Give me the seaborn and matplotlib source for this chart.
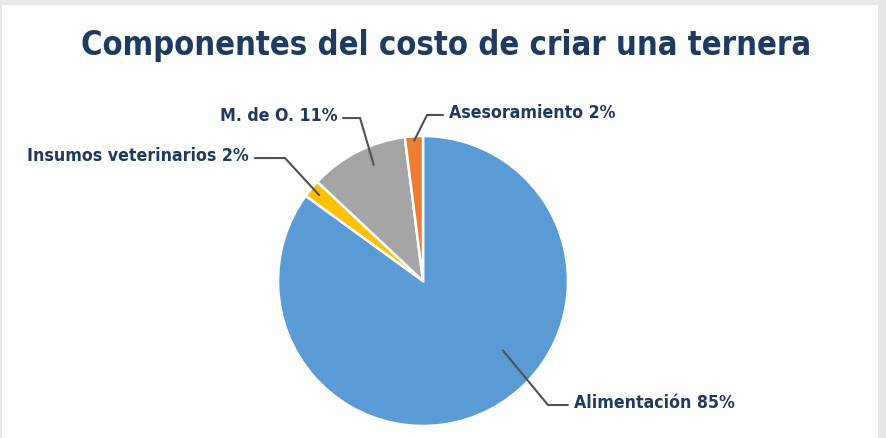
import matplotlib
matplotlib.use("Agg")
import matplotlib.pyplot as plt
from matplotlib.patches import Rectangle
import numpy as np
import seaborn as sns

sns.set_theme(style="white")
plt.rcParams["font.family"] = ["DejaVu Sans"]

# Cost components of raising a heifer calf (%)
categories = ["Alimentación", "Insumos veterinarios", "M. de O.", "Asesoramiento"]
shares = [85, 2, 11, 2]
colors = ["#5b9bd5", "#ffc000", "#a5a5a5", "#ed7d31"]
title = "Componentes del costo de criar una ternera"

navy = "#1f3a60"
line_col = "#4c5157"
font_kw = dict(family="DejaVu Sans", fontstretch="condensed", fontweight="bold", color=navy)

fig = plt.figure(figsize=(8.87, 4.38), dpi=100, facecolor="#e6e7e9")
fig.patches.append(Rectangle((2 / 887, 0), 876 / 887, 433 / 438,
                             transform=fig.transFigure, facecolor="white",
                             edgecolor="none", zorder=-5))

W, H = 887, 438
cx, cy, r = 423, 281, 145
ax = fig.add_axes([(cx - r) / W, (H - cy - r) / H, 2 * r / W, 2 * r / H])
ax.set_facecolor("none")
ax.set_zorder(2)

wedges, _ = ax.pie(shares, colors=colors, startangle=90, counterclock=False,
                   wedgeprops=dict(edgecolor="white", linewidth=1.8))
ax.set_xlim(-1, 1)
ax.set_ylim(-1, 1)
ax.set_aspect("equal")
ax.axis("off")

# Leader layout per slice: anchor angle, anchor radius, elbow, end, side
layout = {
    "Alimentación": dict(angle=-41, rad=0.73, elbow=(0.862, -0.855), end=(1.00, -0.855), ha="left"),
    "Insumos veterinarios": dict(angle=None, rad=0.93, elbow=(-0.952, 0.848), end=(-1.159, 0.848), ha="right"),
    "M. de O.": dict(angle=113, rad=0.87, elbow=(-0.434, 1.124), end=(-0.552, 1.124), ha="right"),
    "Asesoramiento": dict(angle=None, rad=0.97, elbow=(0.028, 1.145), end=(0.138, 1.145), ha="left"),
}

for w, name, val in zip(wedges, categories, shares):
    lay = layout[name]
    ang = lay["angle"] if lay["angle"] is not None else (w.theta1 + w.theta2) / 2
    a = np.deg2rad(ang)
    x0, y0 = lay["rad"] * np.cos(a), lay["rad"] * np.sin(a)
    ex, ey = lay["elbow"]
    tx, ty = lay["end"]
    ax.plot([x0, ex, tx], [y0, ey, ty], color=line_col, lw=1.5,
            solid_joinstyle="miter", clip_on=False, zorder=5)
    off = 0.04 if lay["ha"] == "left" else -0.04
    ax.text(tx + off, ty + 0.015, f"{name} {val}%", ha=lay["ha"], va="center",
            fontsize=12.7, **font_kw)

fig.text(446 / W, 1 - 45 / H, title, ha="center", va="center", fontsize=23.5, **font_kw)

fig.savefig("out.png", dpi=100, facecolor=fig.get_facecolor())
